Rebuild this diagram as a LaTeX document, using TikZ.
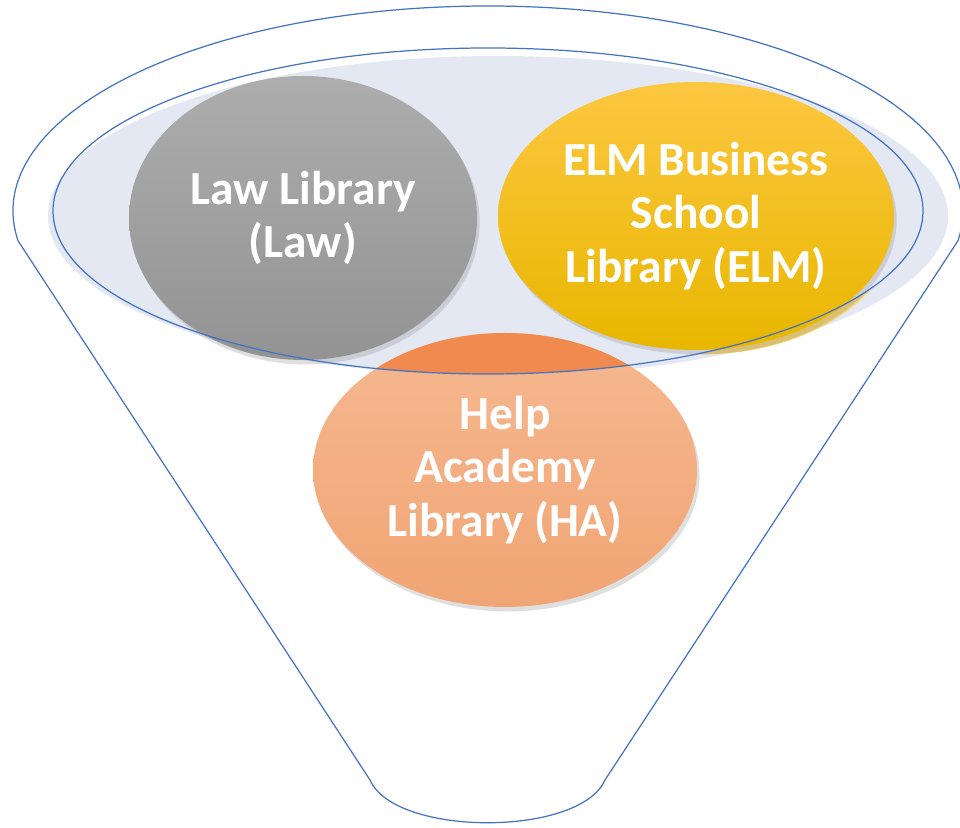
\documentclass[tikz,border=0pt]{standalone}
\usepackage{fontspec}
\setmainfont{Carlito}
\usetikzlibrary{shapes.geometric, shadows}

\definecolor{rimblue}{HTML}{4472C4}
\definecolor{rimfill}{HTML}{E3E8F3}
\definecolor{lawtop}{HTML}{ADADAD}
\definecolor{lawbot}{HTML}{939393}
\definecolor{elmtop}{HTML}{FCC740}
\definecolor{elmmid}{HTML}{FCC60D}
\definecolor{elmbot}{HTML}{E8B700}
\definecolor{elmpale}{HTML}{F8D670}
\definecolor{hatop}{HTML}{F6B890}
\definecolor{habot}{HTML}{F0A574}
\definecolor{hadark}{HTML}{F08A4F}

\begin{document}
\begin{tikzpicture}
    % Define block styles
    \tikzstyle{lib} = [ellipse, inner sep=0pt, align=center, text=white, font=\bfseries\fontsize{27}{30.5}\selectfont, drop shadow={opacity=0.25, shadow xshift=1.5pt, shadow yshift=-2.5pt}]
    \tikzstyle{rim} = [draw=rimblue, line width=0.7pt]
    \useasboundingbox (0,0) rectangle (19.2,16.54);
    \coordinate (top) at (9.76,12.32);

    % Rim of the funnel
    \fill[rimfill] (9.96,12.22) ellipse [x radius=9.0, y radius=3.2];

    % Libraries
    \node [lib, minimum width=7.68cm, minimum height=5.48cm, top color=hatop, bottom color=habot] (help) at (10.10,7.14) {Help\\Academy\\Library (HA)};
    \begin{scope}
        \clip (top) ellipse [x radius=8.7, y radius=3.26];
        \fill[hadark] (help.center) ellipse [x radius=3.84, y radius=2.74];
    \end{scope}
    \begin{scope}[even odd rule]
        \clip (0,0) rectangle (19.2,16.54) (top) ellipse [x radius=8.7, y radius=3.26];
        \fill[elmpale] (14.02,12.13) ellipse [x radius=3.96, y radius=2.68];
    \end{scope}
    \node [lib, minimum width=6.96cm, minimum height=5.68cm, top color=lawtop, bottom color=lawbot] (law) at (6.06,12.18) {Law Library\\(Law)};
    \node [lib, minimum width=7.92cm, minimum height=5.36cm, top color=elmtop, middle color=elmmid, bottom color=elmbot] (elm) at (13.92,12.22) {ELM Business\\School\\Library (ELM)};

    % Funnel outline
    \draw[rim] (top) ellipse [x radius=8.7, y radius=3.26];
    \draw[rim] (top) ++(188.4:9.5 and 4.1) arc [start angle=188.4, end angle=-8.4, x radius=9.5, y radius=4.1]
        -- (12.10,0.94) .. controls (11.6,-0.2) and (7.9,-0.2) .. (7.40,0.94) -- cycle;
\end{tikzpicture}
\end{document}
